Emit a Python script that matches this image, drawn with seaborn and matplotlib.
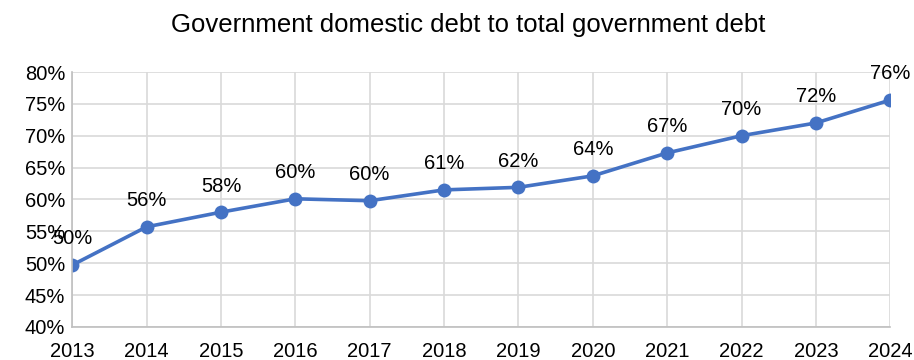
import numpy as np
import pandas as pd
import matplotlib
matplotlib.use("Agg")
import matplotlib.pyplot as plt
import seaborn as sns
from matplotlib.ticker import PercentFormatter

# data
years = [2013, 2014, 2015, 2016, 2017, 2018, 2019, 2020, 2021, 2022, 2023, 2024]
share = [49.7, 55.7, 58.0, 60.1, 59.8, 61.5, 61.9, 63.7, 67.3, 70.0, 72.0, 75.6]
labels = ["50%", "56%", "58%", "60%", "60%", "61%", "62%", "64%", "67%", "70%", "72%", "76%"]

df = pd.DataFrame({"year": years, "share": share})

sns.set_style("white")
plt.rcParams["font.family"] = ["Liberation Sans", "DejaVu Sans"]

fig = plt.figure(figsize=(9.14, 3.6), dpi=100)
ax = fig.add_axes([0.079, 0.092, 0.895, 0.708])

sns.lineplot(data=df, x="year", y="share", ax=ax, color="#4472C4",
             linewidth=2.6, marker="o", markersize=10, markeredgewidth=0)

for x, y, t in zip(years, share, labels):
    ax.annotate(t, (x, y), xytext=(0, 12), textcoords="offset points",
                ha="center", va="bottom", fontsize=14.5, color="#000000")

ax.set_xlim(2013, 2024)
ax.set_ylim(40, 80)
ax.set_xticks(years)
ax.set_yticks(np.arange(40, 81, 5))
ax.yaxis.set_major_formatter(PercentFormatter(decimals=0))
ax.grid(True, color="#d9d9d9", linewidth=1.2)
ax.set_axisbelow(True)
ax.tick_params(axis="both", labelsize=14.5, length=0, colors="#000000")
ax.tick_params(axis="x", pad=11)
ax.tick_params(axis="y", pad=5)
ax.set_xlabel("")
ax.set_ylabel("")
for side in ["top", "right"]:
    ax.spines[side].set_visible(False)
for side in ["left", "bottom"]:
    ax.spines[side].set_color("#bfbfbf")
    ax.spines[side].set_linewidth(1.2)

fig.suptitle("Government domestic debt to total government debt", fontsize=18.5,
             x=0.512, y=0.965, color="#000000")

fig.savefig("out.png", dpi=100)
